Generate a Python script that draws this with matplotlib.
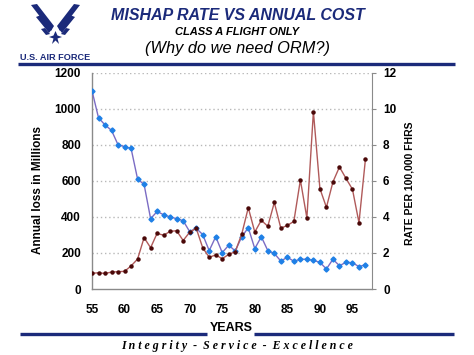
import matplotlib
matplotlib.use('Agg')
import matplotlib.pyplot as plt
from matplotlib.patches import Polygon

years = list(range(55, 98))
annual_loss = [1100, 950, 910, 880, 800, 790, 780, 610, 580, 390,
               430, 412, 400, 390, 379, 318, 337, 302, 213, 290,
               202, 243, 211, 290, 340, 224, 290, 213, 197, 155,
               176, 154, 165, 165, 159, 148, 111, 165, 129, 148,
               146, 124, 135]
mishap_rate = [0.87, 0.90, 0.86, 0.94, 0.96, 0.98, 1.28, 1.66, 2.85, 2.29,
               3.09, 2.98, 3.20, 3.23, 2.69, 3.15, 3.37, 2.29, 1.76, 1.89,
               1.68, 1.92, 2.07, 3.05, 4.51, 3.16, 3.81, 3.48, 4.80, 3.37,
               3.53, 3.75, 6.05, 3.94, 9.84, 5.57, 4.53, 5.94, 6.77, 6.14,
               5.53, 3.68, 7.23]
x_ticks = [55, 60, 65, 70, 75, 80, 85, 90, 95]
left_ticks = [0, 200, 400, 600, 800, 1000, 1200]
right_ticks = [0, 2, 4, 6, 8, 10, 12]

plt.rcParams['font.family'] = ['Liberation Sans', 'DejaVu Sans']
W, H = 474, 355
NAVY = '#1b2a7a'
fig = plt.figure(figsize=(W / 100, H / 100), dpi=100)
fig.patch.set_facecolor('white')

ax = fig.add_axes([92 / W, 1 - 289 / H, (372 - 92) / W, (289 - 72.7) / H])
ax.set_xlim(55, 98)
ax.set_ylim(0, 1200)
for v in left_ticks[1:]:
    ax.axhline(v, color='#b8b8b8', lw=1, ls=(0, (1, 2)), zorder=0)
ax.plot(years, annual_loss, color='#7b6cc4', lw=1, marker='D', ms=2.6,
        mfc='#1f80e6', mec='#1f80e6', zorder=3)
ax.set_xticks(x_ticks)
ax.set_yticks(left_ticks)
ax.tick_params(axis='x', length=0, pad=11, labelsize=8.5)
ax.tick_params(axis='y', length=0, pad=8, labelsize=8.5)
for lbl in ax.get_xticklabels() + ax.get_yticklabels():
    lbl.set_fontweight('bold')
ax.spines['top'].set_visible(False)
ax.spines['right'].set_visible(False)
for s in ['left', 'bottom']:
    ax.spines[s].set_color('#8a8a8a')
    ax.spines[s].set_linewidth(1)

ax2 = ax.twinx()
ax2.set_ylim(0, 12)
ax2.plot(years, mishap_rate, color='#b05a5a', lw=1, marker='o', ms=2.2,
         mfc='#4a0808', mec='#4a0808', zorder=3)
ax2.set_yticks(right_ticks)
ax2.tick_params(axis='y', length=3, pad=5, labelsize=8.5, color='#8a8a8a')
for lbl in ax2.get_yticklabels():
    lbl.set_fontweight('bold')
for s in ['top', 'left', 'bottom']:
    ax2.spines[s].set_visible(False)
ax2.spines['right'].set_color('#8a8a8a')

fig.text(38 / W, 1 - 190 / H, 'Annual loss in Millions', rotation=90,
         ha='center', va='center', fontsize=8.5, fontweight='bold')
fig.text(410 / W, 1 - 183 / H, 'RATE PER 100,000 FHRS', rotation=90,
         ha='center', va='center', fontsize=7.5, fontweight='bold')

# Titles
fig.text(238 / W, 1 - 15 / H, 'MISHAP RATE VS ANNUAL COST', ha='center', va='center',
         fontsize=11.5, fontweight='bold', fontstyle='italic', color=NAVY)
fig.text(237 / W, 1 - 32 / H, 'CLASS A FLIGHT ONLY', ha='center', va='center',
         fontsize=8, fontweight='bold', fontstyle='italic', color='black')
fig.text(237.5 / W, 1 - 49 / H, '(Why do we need ORM?)', ha='center', va='center',
         fontsize=11.8, fontstyle='italic', color='black')
fig.text(55 / W, 1 - 57.5 / H, 'U.S. AIR FORCE', ha='center', va='center',
         fontsize=6.6, fontweight='bold', color=NAVY)

# Decorative overlay in pixel coordinates
ov = fig.add_axes([0, 0, 1, 1], zorder=-1)
ov.set_xlim(0, W)
ov.set_ylim(H, 0)
ov.axis('off')
ov.plot([18, 455], [63.5, 63.5], color=NAVY, lw=2.4, solid_capstyle='butt')
ov.plot([20, 207], [333.5, 333.5], color=NAVY, lw=2.4, solid_capstyle='butt')
ov.plot([254, 454], [333.5, 333.5], color=NAVY, lw=2.4, solid_capstyle='butt')
fig.text(231 / W, 1 - 328 / H, 'YEARS', ha='center', va='center',
         fontsize=9, fontweight='bold')
fig.text(237.5 / W, 1 - 345.5 / H,
         'I n t e g r i t y  -  S e r v i c e  -  E x c e l l e n c e',
         ha='center', va='center', fontsize=8.6, fontstyle='italic', fontweight='bold',
         family=['Liberation Serif', 'DejaVu Serif'])

# simplified wings logo
cx = 55.5
left_shapes = [
    [(31, 5), (37, 4), (54, 26), (51, 31)],
    [(36, 17), (41, 15), (52, 29), (49, 33)],
    [(41, 29), (45, 28), (50, 34), (46, 35)],
]
for shp in left_shapes:
    ov.add_patch(Polygon(shp, closed=True, color=NAVY, lw=0))
    ov.add_patch(Polygon([(2 * cx - px, py) for px, py in shp], closed=True, color=NAVY, lw=0))
star = [(cx, 31), (cx + 2, 35.5), (cx + 6.5, 37), (cx + 2, 38.5), (cx + 3.5, 44),
        (cx, 40.5), (cx - 3.5, 44), (cx - 2, 38.5), (cx - 6.5, 37), (cx - 2, 35.5)]
ov.add_patch(Polygon(star, closed=True, color=NAVY, lw=0))

fig.savefig('out.png', dpi=100)
